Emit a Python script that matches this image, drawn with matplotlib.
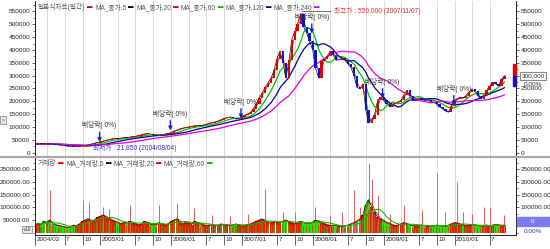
import pandas as pd
import matplotlib
matplotlib.use('Agg')
import matplotlib.pyplot as plt
import matplotlib.dates as mdates
import matplotlib.transforms as mtrans
from matplotlib.patches import Rectangle

plt.rcParams['font.family'] = ['Liberation Sans', 'Noto Sans CJK KR', 'DejaVu Sans']

# semi-monthly closes, starting 2004/02
start = '2004-02-01'
close = [
    33000, 34000, 33500, 33000, 34000, 33000, 32500, 31000, 29500, 28000,
    26500, 25000, 24000, 22500, 23000, 24500, 26000, 27500, 30000, 33000,
    36000, 39000, 42000, 45000, 48000, 50000, 53000, 55000, 54000, 56000,
    58000, 57000, 60000, 61000, 63000, 66000, 69000, 72000, 74000, 71000,
    68000, 66000, 66000, 69000, 72000, 74000, 78000, 83000, 88000, 92000,
    95000, 97000, 99000, 101000, 104000, 105000, 103000, 107000, 110000, 114000,
    117000, 119000, 123000, 128000, 133000, 137000, 138000, 135000, 131000, 132000,
    138000, 145000, 151000, 157000, 170000, 190000, 212000, 232000, 255000, 270000,
    292000, 320000, 365000, 395000, 350000, 290000, 360000, 440000, 475000, 503000,
    541000, 490000, 465000, 435000, 400000, 330000, 290000, 355000, 365000, 375000,
    395000, 380000, 360000, 362000, 368000, 360000, 345000, 333000, 300000, 255000,
    248000, 268000, 165000, 115000, 130000, 148000, 205000, 215000, 203000, 190000,
    178000, 188000, 192000, 197000, 203000, 225000, 242000, 220000, 203000, 207000,
    212000, 208000, 203000, 205000, 198000, 196000, 188000, 178000, 170000, 162000,
    157000, 180000, 203000, 210000, 216000, 212000, 222000, 235000, 248000, 238000,
    222000, 210000, 225000, 242000, 258000, 274000, 268000, 261000, 285000, 300000,
]
# typical daily volume in each half-month
volume = [
    35000, 38000, 30000, 45000, 40000, 50000, 35000, 30000, 28000, 25000,
    22000, 20000, 25000, 30000, 28000, 35000, 45000, 50000, 55000, 45000,
    50000, 60000, 65000, 70000, 60000, 55000, 50000, 45000, 40000, 35000,
    40000, 38000, 45000, 40000, 35000, 30000, 35000, 45000, 40000, 35000,
    30000, 32000, 40000, 35000, 30000, 35000, 45000, 50000, 55000, 40000,
    35000, 40000, 38000, 32000, 45000, 40000, 35000, 30000, 28000, 30000,
    32000, 28000, 30000, 35000, 32000, 30000, 28000, 30000, 35000, 30000,
    28000, 30000, 32000, 35000, 40000, 45000, 50000, 55000, 45000, 40000,
    38000, 42000, 45000, 40000, 45000, 50000, 42000, 38000, 35000, 40000,
    45000, 40000, 35000, 38000, 42000, 50000, 45000, 40000, 35000, 30000,
    28000, 30000, 28000, 26000, 25000, 28000, 30000, 35000, 40000, 45000,
    55000, 70000, 110000, 130000, 100000, 80000, 60000, 55000, 45000, 40000,
    35000, 30000, 28000, 30000, 35000, 40000, 35000, 30000, 28000, 26000,
    28000, 30000, 28000, 26000, 25000, 28000, 30000, 28000, 26000, 25000,
    30000, 35000, 40000, 38000, 32000, 30000, 28000, 30000, 32000, 30000,
    28000, 26000, 28000, 30000, 28000, 30000, 32000, 30000, 28000, 30000,
]
# single-day volume spikes (index of half-month, value)
spike_idx = [5, 16, 18, 23, 25, 32, 42, 48, 54, 60, 66, 72, 78, 84, 88, 95, 100,
             104, 108, 110, 113, 114, 116, 120, 125, 131, 136, 139, 143, 145,
             148, 152, 154, 159]
spike_vol = [167000, 128000, 122000, 100000, 95000, 109000, 109000, 117000,
             97000, 70000, 65000, 75000, 172000, 83000, 80000, 102000, 70000,
             80000, 168000, 102000, 273000, 210000, 148000, 75000, 109000,
             90000, 235000, 80000, 200000, 83000, 75000, 102000, 102000, 70000]

div_dates = ['2004-12-28', '2005-12-28', '2006-12-27', '2007-12-27', '2008-12-26', '2009-12-28']
div_tip = [41000, 86000, 133000, 464000, 211000, 184000]

low_date, low_val = '2004-08-04', 21850
high_date, high_val = '2007-11-07', 550000

# MA name, window in half-months, colour
price_ma = [('MA_종가,5', 1, 'black'), ('MA_종가,20', 2, '#e00000'),
            ('MA_종가,60', 6, '#00c000'), ('MA_종가,120', 12, '#000090'),
            ('MA_종가,240', 23, '#e000e0')]
vol_ma = [('MA_거래량,5', 1, 'black'), ('MA_거래량,20', 2, '#e00000'),
          ('MA_거래량,60', 6, '#00c000')]

W, H = 550, 249


def frac(x0, y0, x1, y1):
    return [x0 / W, 1 - y1 / H, (x1 - x0) / W, (y1 - y0) / H]


def legend_row(ax, x, y, items):
    prev = ax.text(x, y, items[0][0], transform=ax.transAxes, fontsize=4.8,
                   color='#555555', va='center', ha='left')
    for txt, col in items[1:]:
        if col is None:
            prev = ax.annotate(txt, xy=(1, 0.5), xycoords=prev, xytext=(1.5, 0),
                               textcoords='offset points', fontsize=4.8,
                               color='#555555', va='center')
        else:
            prev = ax.annotate('▬', xy=(1, 0.5), xycoords=prev, xytext=(1.5, 0),
                               textcoords='offset points', fontsize=4,
                               color=col, va='center')


def main():
    dates = pd.date_range(start, periods=len(close), freq='SMS')
    x = mdates.date2num(dates)
    s = pd.Series(close, dtype=float)
    opn = s.shift(1).fillna(s.iloc[0])
    v = pd.Series(volume, dtype=float)

    fig = plt.figure(figsize=(5.5, 2.49), dpi=100)
    ax = fig.add_axes(frac(35, 1, 516, 156))
    axv = fig.add_axes(frac(35, 158, 516, 235), sharex=ax)

    # quarter grid lines
    for d in pd.date_range('2004-04-01', '2010-07-01', freq='QS'):
        for a in (ax, axv):
            a.axvline(mdates.date2num(d), color='#d4d4d4', lw=0.6, zorder=0)

    # moving averages of close
    for name, w, col in price_ma:
        lw = 0.9 if w >= 6 else 0.5
        ax.plot(x, s.rolling(w, min_periods=1).mean(), color=col, lw=lw, zorder=2)

    # candles
    up = s >= opn
    cols = ['#e00000' if u else '#1010d0' for u in up]
    lo = pd.concat([s, opn], axis=1).min(axis=1)
    body = (s - opn).abs().clip(lower=2500)
    ax.bar(x, body, bottom=lo, width=12, color=cols, linewidth=0, zorder=3)

    # dividend markers
    for d, tip in zip(div_dates, div_tip):
        ax.annotate('배당락( 0%)', xy=(mdates.datestr2num(d), tip), xytext=(0, 9),
                    textcoords='offset points', ha='center', va='bottom',
                    fontsize=4.8, color='#333333', zorder=5,
                    arrowprops=dict(arrowstyle='-|>', color='#1020d0', lw=1.0,
                                    mutation_scale=5, shrinkA=0, shrinkB=0))

    ax.annotate('최저가 : 21,850 (2004/08/04)', xy=(mdates.datestr2num(low_date), low_val),
                xytext=(16, -1), textcoords='offset points', ha='left', va='center',
                fontsize=4.8, color='#3030d0', zorder=5)
    ax.annotate('최고가 : 550,000 (2007/11/07)', xy=(mdates.datestr2num(high_date), high_val),
                xytext=(23, 0), textcoords='offset points', ha='left', va='center',
                fontsize=4.8, color='#e03030', zorder=5,
                arrowprops=dict(arrowstyle='-', color='#555555', lw=0.6,
                                shrinkA=0, shrinkB=0))

    # volume
    vcols = ['#e02000' if u else '#30e010' for u in up]
    axv.bar(x, v, width=15.2, color=vcols, linewidth=0, zorder=2)
    axv.bar(x, v * 0.7, width=7, color='#9a6a10', linewidth=0, zorder=2)
    sx = [x[i] for i in spike_idx]
    axv.vlines(sx, 0, spike_vol, color='#e06060', lw=0.7, zorder=3)
    for name, w, col in vol_ma:
        lw = 0.8 if w >= 6 else 0.5
        axv.plot(x, v.rolling(w, min_periods=1).mean(), color=col, lw=lw, zorder=4)

    # axes styling
    ax.set_ylim(-13650, 590900)
    axv.set_ylim(-9000, 294000)
    ax.set_xlim(mdates.datestr2num('2004-01-30'), mdates.datestr2num('2010-11-14'))

    ax.set_yticks(range(0, 550001, 50000))
    ax.set_yticklabels([str(t) for t in range(0, 550001, 50000)])
    ax.set_yticks(range(0, 590000, 25000), minor=True)
    vt = list(range(50000, 250001, 50000))
    axv.set_yticks(vt)
    axv.set_yticklabels(['%.2f' % t for t in vt])
    axv.set_yticks(range(0, 290000, 25000), minor=True)

    for a in (ax, axv):
        a.tick_params(axis='y', which='both', left=True, right=True,
                      labelleft=True, labelright=True, labelsize=4.6,
                      colors='#222222', pad=1)
        a.tick_params(axis='y', which='major', length=2.5, width=0.5)
        a.tick_params(axis='y', which='minor', length=1.5, width=0.4)
        a.spines['top'].set_visible(False)
        for sp in ('left', 'right', 'bottom'):
            a.spines[sp].set_linewidth(0.6)
    ax.spines['bottom'].set_visible(False)
    ax.tick_params(axis='x', which='both', bottom=False, labelbottom=False)
    # right-hand labels hidden under the current-value boxes
    ax.yaxis.get_major_ticks()[6].label2.set_visible(False)
    axv.yaxis.get_major_ticks()[0].label2.set_visible(False)

    tick_dates = ['2004-02-01', '2004-07-01', '2004-10-01']
    tick_labels = ['2004/02', '7', '10']
    for yr in range(2005, 2011):
        tick_dates += ['%d-01-01' % yr, '%d-07-01' % yr]
        tick_labels += ['%d/01' % yr, '7']
        if yr < 2010:
            tick_dates.append('%d-10-01' % yr)
            tick_labels.append('10')
    axv.set_xticks([mdates.datestr2num(d) for d in tick_dates])
    axv.set_xticklabels(tick_labels)
    axv.tick_params(axis='x', length=7, width=0.5, pad=-5.5, labelsize=4.6,
                    colors='#222222')
    shift = mtrans.ScaledTranslation(1.5 / 100, 0, fig.dpi_scale_trans)
    for lbl in axv.get_xticklabels():
        lbl.set_ha('left')
        lbl.set_transform(lbl.get_transform() + shift)

    legend_row(ax, 3 / 481, 1 - 6 / 155,
               [('일본식차트(일간)', None), ('', '#e00000')] +
               sum([[(n, None), ('', c)] for n, w, c in price_ma], []))
    legend_row(axv, 3 / 481, 1 - 5 / 77,
               [('거래량', None), ('', '#e00000')] +
               sum([[(n, None), ('', c)] for n, w, c in vol_ma], []))

    # panel separator and right-hand info boxes
    fig.add_artist(plt.Line2D([0, 1], [1 - 157 / H] * 2, color='#a8a8a8', lw=1.6))
    fig.add_artist(Rectangle((513 / W, 1 - 76 / H), 3 / W, 12 / H, color='#e00000'))
    fig.add_artist(Rectangle((513 / W, 1 - 86 / H), 3 / W, 10 / H, color='#1010d0'))
    fig.text(533 / W, 1 - 76 / H, '300,000', fontsize=4.6, ha='center', va='center',
             color='#333333', bbox=dict(boxstyle='square,pad=0.25', fc='white',
                                        ec='#888888', lw=0.8))
    fig.text(533 / W, 1 - 84.5 / H, '0.00%', fontsize=4.6, ha='center', va='center',
             color='#333333')
    fig.add_artist(Rectangle((517 / W, 1 - 226 / H), 33 / W, 9 / H, color='#7b7bf0'))
    fig.text(533 / W, 1 - 221.5 / H, '0', fontsize=4.6, ha='center', va='center',
             color='white')
    fig.text(533 / W, 1 - 231 / H, '0.00%', fontsize=4.6, ha='center', va='center',
             color='#3030e0')
    fig.text(27 / W, 1 - 229.5 / H, '+10', fontsize=3.5, ha='center', va='center',
             color='#333333', bbox=dict(boxstyle='square,pad=0.2', fc='#e8e8e8',
                                        ec='#777777', lw=0.5))
    fig.text(3 / W, 1 - 120 / H, '>', fontsize=3.5, ha='center', va='center',
             color='#333333', bbox=dict(boxstyle='square,pad=0.3', fc='#e8e8e8',
                                        ec='#777777', lw=0.5))

    fig.savefig('out.png', dpi=100)


if __name__ == '__main__':
    main()
